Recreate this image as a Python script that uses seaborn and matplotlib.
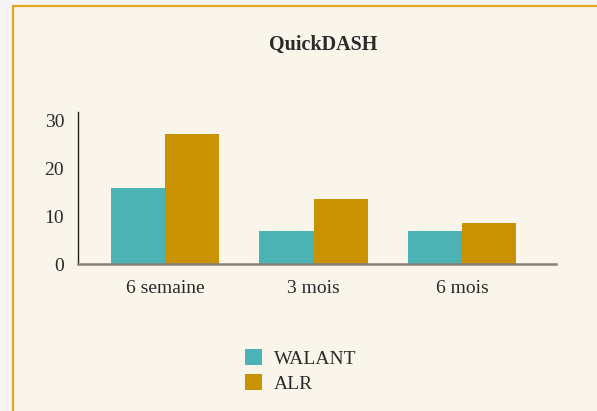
import numpy as np
import pandas as pd
import seaborn as sns
import matplotlib.pyplot as plt
from matplotlib.patches import Rectangle, Patch

# values
periods = ['6 semaine', '3 mois', '6 mois']
walant = [16, 7, 7]
alr = [27.2, 13.6, 8.6]
groups = ['WALANT', 'ALR']
colors = {'WALANT': '#4CB3B4', 'ALR': '#C99200'}

df = pd.DataFrame({
    'period': periods * 2,
    'score': walant + alr,
    'group': ['WALANT'] * len(periods) + ['ALR'] * len(periods),
})

sns.set_style('white')
plt.rcParams['font.family'] = ['Liberation Serif', 'DejaVu Serif']

W, H = 597, 411
fig = plt.figure(figsize=(W / 100, H / 100), dpi=100, facecolor='#F4F4F4')

# card background with golden frame (right/bottom run off the picture)
bg = '#F9F5EB'
fig.patches.append(Rectangle((12.5 / W, -0.05), 1.2, 1 - 6.5 / H + 0.05,
                             transform=fig.transFigure, facecolor=bg,
                             edgecolor='#E3A623', linewidth=1.6, zorder=-10))

ax = fig.add_axes([78 / W, 1 - 264.3 / H, (556 - 78) / W, (264.3 - 111.7) / H])
ax.set_facecolor('none')
ax.set_zorder(2)

sns.barplot(data=df, x='period', y='score', hue='group', hue_order=groups,
            palette=colors, saturation=1, width=0.73, gap=0, legend=False,
            linewidth=0, ax=ax)

ax.set_ylim(0, 31.9)
ax.set_xlim(-0.586, 2.633)
ax.set_yticks([0, 10, 20, 30])
ax.set_xlabel('')
ax.set_ylabel('')
for s in ['top', 'right']:
    ax.spines[s].set_visible(False)
ax.spines['left'].set_color('#222222')
ax.spines['left'].set_linewidth(1.0)
ax.spines['bottom'].set_color('#85807A')
ax.spines['bottom'].set_linewidth(1.8)
ax.spines['bottom'].set_zorder(5)
ax.tick_params(axis='both', length=0, labelsize=14, colors='#2A2A2A')
ax.tick_params(axis='y', pad=10)
ax.tick_params(axis='x', pad=11)

fig.text(323 / W, 1 - 45 / H, 'QuickDASH', ha='center', va='center',
         fontsize=14.5, fontweight='bold', color='#2A2A2A', zorder=3)

handles = [Patch(facecolor=colors[g], edgecolor='none') for g in groups]
leg = fig.legend(handles, groups, loc='center',
                 bbox_to_anchor=(301 / W, 1 - 371 / H), frameon=False,
                 fontsize=14, handlelength=0.88, handleheight=0.88,
                 handletextpad=0.6, labelspacing=0.3, borderpad=0,
                 borderaxespad=0)
leg.set_zorder(3)
for t in leg.get_texts():
    t.set_color('#2A2A2A')

fig.savefig('out.png', dpi=100, facecolor=fig.get_facecolor())
